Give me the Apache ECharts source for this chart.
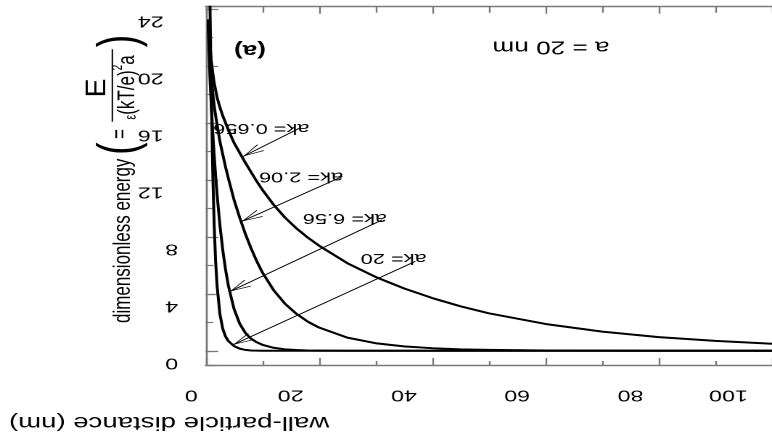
<!DOCTYPE html>
<html>
<head>
<meta charset="utf-8">
<script src="https://cdn.jsdelivr.net/npm/echarts@6/dist/echarts.min.js"></script>
<style>
html,body{margin:0;padding:0;background:#fff;overflow:hidden;}
#chart{width:532px;height:442px;transform:scaleX(1.4511);transform-origin:0 0;}
</style>
</head>
<body>
<div id="chart"></div>
<script>
// ---- data ----
const distance = [0.45, 0.75, 1, 1.25, 1.5, 1.75, 2, 2.5, 3, 3.5, 4, 5, 6, 7, 8, 9, 10, 12, 14, 16, 18, 20, 25, 30, 35, 40, 45, 50, 60, 70, 80, 90, 100];
const energyKa0656 = [23.2, 21.4, 20.3, 19.5, 18.8, 18.3, 17.8, 17.1, 16.5, 16.0, 15.5, 14.6, 13.9, 13.2, 12.55, 11.9, 11.3, 10.25, 9.35, 8.6, 7.95, 7.38, 6.15, 5.18, 4.38, 3.7, 3.12, 2.63, 1.88, 1.34, 0.96, 0.69, 0.49];
const energyKa206 = [23.0, 20.7, 19.2, 18.1, 17.2, 16.5, 15.9, 14.7, 13.8, 12.9, 12.1, 10.6, 9.35, 8.2, 7.2, 6.3, 5.5, 4.25, 3.3, 2.6, 2.05, 1.63, 0.92, 0.53, 0.31, 0.18, 0.1, 0.06, 0.02, 0.01, 0, 0, 0];
const energyKa656 = [22.8, 19.2, 17.1, 15.3, 13.7, 12.3, 11.0, 8.85, 7.1, 5.7, 4.57, 2.94, 1.9, 1.25, 0.85, 0.6, 0.42, 0.21, 0.1, 0.05, 0.02, 0.01, 0, 0, 0, 0, 0, 0, 0, 0, 0, 0, 0];
const energyKa20 = [37, 24.5, 17.5, 12.5, 8.8, 6.3, 4.6, 2.6, 1.55, 1.0, 0.68, 0.33, 0.15, 0.06, 0.02, 0.01, 0, 0, 0, 0, 0, 0, 0, 0, 0, 0, 0, 0, 0, 0, 0, 0, 0];
const curveNames = ['ak= 0.656', 'ak= 2.06', 'ak= 6.56', 'ak= 20'];
const xTickLabels = [0, 20, 40, 60, 80, 100];
const yTickLabels = [0, 4, 8, 12, 16, 20, 24];
// annotation anchors, in data units
const labelAt = [[9.82, 15.63], [16.84, 12.23], [24.58, 9.31], [33.18, 6.51]];
const arrowFrom = [[16.6, 15.63], [24.14, 12.23], [31.16, 9.19], [37.02, 6.27]];
const arrowTo = [[6.6, 13.64], [6.32, 9.07], [4.26, 4.16], [4.84, 0.42]];

// ---- styling ----
const FONT = '"Liberation Sans", Arial, Helvetica, sans-serif';
const AX = '#7a7a7a';
const arrowPath = 'path://M5,15 L10,30 L9.1,30 L5,17.2 L0.9,30 L0,30 Z M5,0 L5.01,0 L5,0.01 Z';

const allValues = [energyKa0656, energyKa206, energyKa656, energyKa20];
const series = allValues.map((vals, i) => ({
  type: 'line',
  name: curveNames[i],
  data: distance.map((d, j) => [d, vals[j]]),
  showSymbol: false,
  symbol: 'none',
  smooth: false,
  clip: true,
  lineStyle: { color: '#000', width: 2, join: 'round', cap: 'round' },
  z: 3,
  markLine: {
    silent: true,
    animation: false,
    symbol: ['none', arrowPath],
    lineStyle: { color: '#000', width: 0.9, type: 'solid' },
    label: { show: false },
    data: [[
      { coord: arrowFrom[i], symbol: 'none' },
      { coord: arrowTo[i], symbol: arrowPath, symbolSize: [8, 30] }
    ]]
  },
  markPoint: {
    silent: true,
    animation: false,
    symbol: 'circle',
    symbolSize: 1,
    itemStyle: { color: 'rgba(0,0,0,0)' },
    label: {
      show: true, position: 'inside', rotate: 180,
      formatter: curveNames[i], color: '#000', fontSize: 15, fontFamily: FONT
    },
    data: [{ coord: labelAt[i] }]
  }
}));

const chart = echarts.init(document.getElementById('chart'), null, { renderer: 'canvas', devicePixelRatio: 2 });
const option = {
  backgroundColor: '#fff',
  animation: false,
  textStyle: { fontFamily: FONT },
  grid: { left: 141.75, right: -2.56, top: 6.7, bottom: 77 },
  xAxis: [
    {
      type: 'value', min: 0, max: 100, interval: 20, position: 'bottom',
      axisLine: { show: true, onZero: false, lineStyle: { color: AX, width: 1.4 } },
      axisTick: { show: true, inside: true, length: 7, lineStyle: { color: AX, width: 1.2 } },
      minorTick: { show: true, splitNumber: 2, length: 4, lineStyle: { color: AX, width: 1.2 } },
      splitLine: { show: false }, minorSplitLine: { show: false },
      axisLabel: {
        show: true, rotate: 180, margin: 22, color: '#000', fontSize: 16, fontFamily: FONT,
        formatter: v => {
          if (!xTickLabels.includes(v)) return '';
          if (v === 0) return '{a|' + v + '}';
          if (v >= 100) return '{c|' + v + '}';
          return '{b|' + v + '}';
        },
        rich: {
          a: { fontSize: 16, fontFamily: FONT, color: '#000', padding: [0, 0, 0, 20] },
          b: { fontSize: 16, fontFamily: FONT, color: '#000', padding: [0, 0, 0, 39] },
          c: { fontSize: 16, fontFamily: FONT, color: '#000', padding: [0, 0, 0, 60] }
        }
      }
    },
    {
      type: 'value', min: 0, max: 100, interval: 20, position: 'top',
      axisLine: { show: true, onZero: false, lineStyle: { color: AX, width: 1.4 } },
      axisTick: { show: true, inside: true, length: 7, lineStyle: { color: AX, width: 1.2 } },
      minorTick: { show: true, splitNumber: 2, length: 6, lineStyle: { color: AX, width: 1.2 } },
      splitLine: { show: false }, axisLabel: { show: false }
    }
  ],
  yAxis: [
    {
      type: 'value', min: -1, max: 24.15, minInterval: 4, maxInterval: 4, position: 'left',
      axisLine: { show: true, onZero: false, lineStyle: { color: AX, width: 1.4 } },
      axisTick: { show: true, inside: true, length: 8.7, lineStyle: { color: AX, width: 1.2 } },
      splitLine: { show: false },
      axisLabel: {
        show: true, rotate: 180, margin: 19, padding: [0, 0, 24, 0], color: '#000', fontSize: 16, fontFamily: FONT,
        formatter: v => {
          if (!yTickLabels.includes(v)) return '';
          return v < 10 ? '{s|' + v + '}' : '{d|' + v + '}';
        },
        rich: {
          s: { fontSize: 16, fontFamily: FONT, color: '#000', padding: [0, 0, 0, 0] },
          d: { fontSize: 16, fontFamily: FONT, color: '#000', padding: [0, 0, 0, 10] }
        }
      }
    },
    {
      type: 'value', min: -1, max: 24.15, minInterval: 2, maxInterval: 2, position: 'left', offset: 0,
      axisLine: { show: false, onZero: false },
      axisTick: { show: true, inside: true, length: 5.3, lineStyle: { color: AX, width: 1.2 } },
      splitLine: { show: false }, axisLabel: { show: false }
    }
  ],
  graphic: [
    { type: 'text', x: 172.3, y: 50, rotation: Math.PI, silent: true,
      style: { text: '(a)', fontSize: 18, fontWeight: 'bold', fontFamily: FONT, fill: '#000', align: 'center', verticalAlign: 'middle' } },
    { type: 'text', x: 379.7, y: 46.5, rotation: Math.PI, silent: true,
      style: { text: 'a = 20 nm', fontSize: 18, fontFamily: FONT, fill: '#000', align: 'center', verticalAlign: 'middle' } },
    { type: 'text', x: 116.5, y: 422, rotation: Math.PI, silent: true,
      style: { text: 'wall-particle distance (nm)', fontSize: 19, fontFamily: FONT, fill: '#000', align: 'center', verticalAlign: 'middle' } },
    {
      type: 'group', x: 84.8, y: 323, rotation: Math.PI / 2, silent: true,
      children: [
        { type: 'text', x: 0, y: 0, style: { text: 'dimensionless energy', fontSize: 17, fontFamily: FONT, fill: '#000', align: 'left', verticalAlign: 'middle' } },
        { type: 'text', x: 174.5, y: -2, style: { text: '(', fontSize: 38, fontFamily: FONT, fill: '#000', align: 'center', verticalAlign: 'middle' } },
        { type: 'text', x: 189, y: -1.4, style: { text: '=', fontSize: 17, fontFamily: FONT, fill: '#000', align: 'center', verticalAlign: 'middle' } },
        { type: 'line', shape: { x1: 201.3, y1: -7.4, x2: 273.7, y2: -7.4 }, style: { stroke: '#000', lineWidth: 1 } },
        { type: 'text', x: 235, y: -17.7, scaleX: 1.5, style: { text: 'E', fontSize: 19, fontFamily: FONT, fill: '#000', align: 'center', verticalAlign: 'middle' } },
        { type: 'text', x: 235.5, y: 1.4, style: {
            text: '{e|ε}{t|(kT/e)}{s|2}{t|a}', fontFamily: FONT, fill: '#000', align: 'center', verticalAlign: 'middle',
            rich: {
              e: { fontSize: 11, fontFamily: FONT, fill: '#000', verticalAlign: 'bottom', lineHeight: 20 },
              t: { fontSize: 17, fontFamily: FONT, fill: '#000', verticalAlign: 'bottom', lineHeight: 20 },
              s: { fontSize: 10, fontFamily: FONT, fill: '#000', verticalAlign: 'top', lineHeight: 20 }
            } } },
        { type: 'text', x: 282, y: -2, style: { text: ')', fontSize: 38, fontFamily: FONT, fill: '#000', align: 'center', verticalAlign: 'middle' } }
      ]
    }
  ],
  series: series
};
chart.setOption(option);
</script>
</body>
</html>
